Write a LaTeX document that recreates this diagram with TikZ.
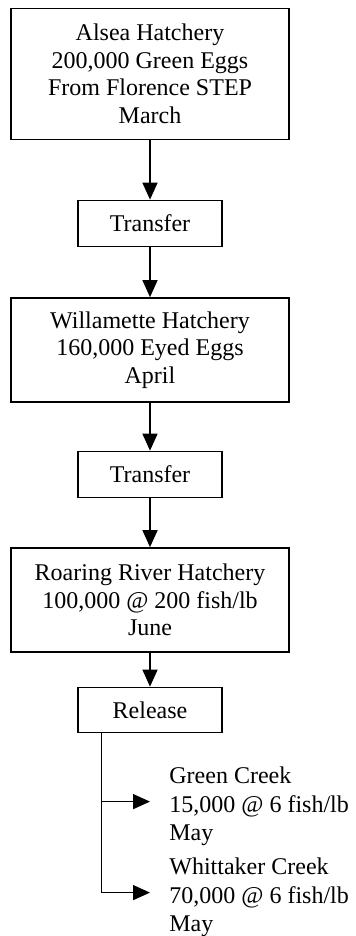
\documentclass[tikz,border=0pt]{standalone}
\usepackage{fontspec}
\setmainfont{Liberation Serif}
\usetikzlibrary{positioning,arrows.meta}

\begin{document}
\begin{tikzpicture}[
	font=\fontsize{12}{13.7}\selectfont,
	hatchery/.style={draw, line width=0.75pt, minimum width=139pt, align=center},
	stage/.style={draw, line width=0.75pt, minimum width=72pt, minimum height=23pt},
	creek/.style={align=left, inner sep=0pt, font=\fontsize{12}{14.2}\selectfont},
	flow/.style={line width=0.75pt, -{Triangle[length=8.5pt,width=7.5pt]}},
	]
	\useasboundingbox (0,0) rectangle (178pt,-468pt);
	\node[hatchery, minimum height=65.5pt] (alsea) at (75pt,-36.9pt) {Alsea Hatchery\\200,000 Green Eggs\\From Florence STEP\\March};
	\node[stage, below=29.8pt of alsea] (xfer1) {Transfer};
	\node[hatchery, minimum height=52pt, below=25pt of xfer1] (willamette) {Willamette Hatchery\\160,000 Eyed Eggs\\April};
	\node[stage, below=24pt of willamette] (xfer2) {Transfer};
	\node[hatchery, minimum height=52pt, below=24.5pt of xfer2] (roaring) {Roaring River Hatchery\\100,000 @ 200 fish/lb\\June};
	\node[stage, minimum height=22.5pt, below=17pt of roaring] (release) {Release};
	\coordinate (trunk) at ([xshift=12pt]release.south west);
	\coordinate (tip1) at (75pt,-400.8pt);
	\coordinate (tip2) at (75pt,-446.3pt);
	\node[creek, right=9.5pt of tip1, yshift=-2.5pt] (green) {Green Creek\\15,000 @ 6 fish/lb\\May};
	\node[creek, right=9.5pt of tip2, yshift=-2.5pt] (whittaker) {Whittaker Creek\\70,000 @ 6 fish/lb\\May};

	\draw[flow] (alsea) -- (xfer1);
	\draw[flow] (xfer1) -- (willamette);
	\draw[flow] (willamette) -- (xfer2);
	\draw[flow] (xfer2) -- (roaring);
	\draw[flow] (roaring) -- (release);
	\draw[flow] (trunk) |- (tip2);
	\draw[flow] (trunk |- tip1) -- (tip1);
\end{tikzpicture}
\end{document}
